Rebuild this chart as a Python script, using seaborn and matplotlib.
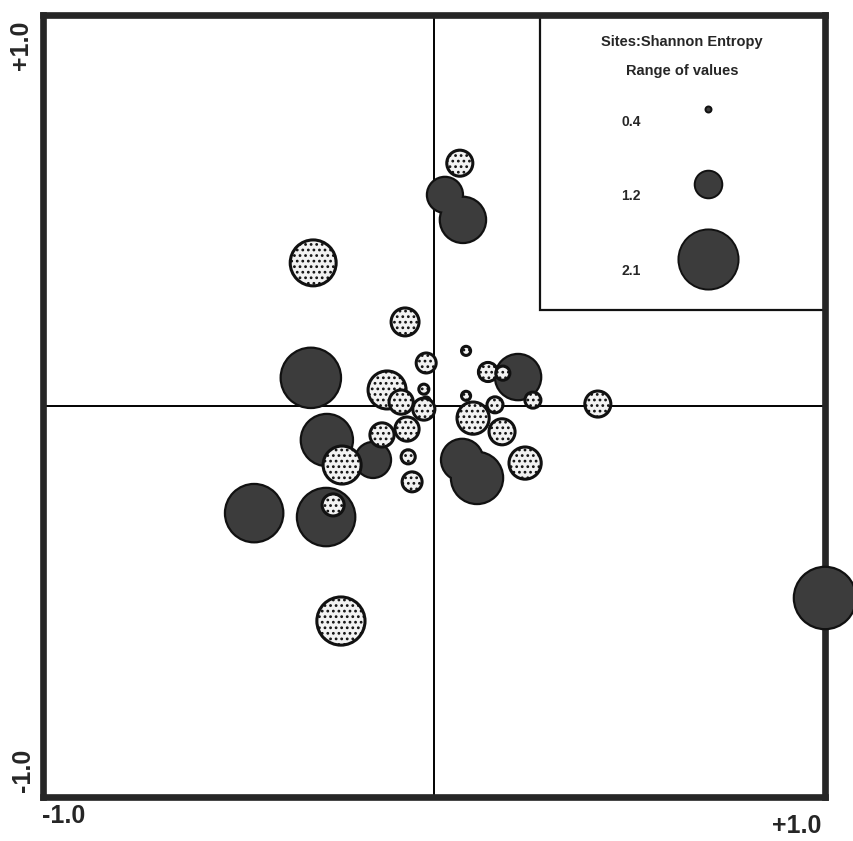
import numpy as np
import pandas as pd
import seaborn as sns
import matplotlib.pyplot as plt
from matplotlib.lines import Line2D

# site scores on the first two axes, with Shannon entropy per site
dark_x = [0.028, 0.074, -0.315, 0.215, -0.274, -0.156, 0.072, 0.110, -0.276, -0.460, 1.0]
dark_y = [0.540, 0.476, 0.072, 0.074, -0.087, -0.138, -0.138, -0.184, -0.284, -0.274, -0.491]
dark_h = [1.39, 1.68, 2.05, 1.68, 1.84, 1.39, 1.57, 1.84, 2.00, 2.00, 2.10]

light_x = [0.066, -0.309, -0.074, -0.020, 0.082, 0.138, 0.176, 0.253, -0.120, -0.084, -0.026,
           -0.020, -0.026, 0.082, 0.100, 0.156, -0.069, -0.133, 0.174, -0.235, -0.066, 0.233,
           -0.056, -0.258, -0.238, 0.419]
light_y = [0.621, 0.366, 0.215, 0.110, 0.141, 0.087, 0.084, 0.015, 0.041, 0.010, 0.043,
           0.013, -0.008, 0.026, -0.031, 0.003, -0.059, -0.074, -0.066, -0.151, -0.130, -0.146,
           -0.194, -0.253, -0.550, 0.005]
light_h = [1.15, 1.73, 1.21, 0.95, 0.54, 0.92, 0.74, 0.81, 1.51, 1.09, 0.58,
           0.49, 1.02, 0.54, 1.34, 0.81, 1.09, 1.09, 1.15, 1.51, 0.74, 1.34,
           0.95, 1.02, 1.79, 1.15]

legend_vals = [0.4, 1.2, 2.1]
legend_title = "Sites:Shannon Entropy\nRange of values"

DARK = "#3c3c3c"


def diam_pt(h):
    # radius in px grows as a power of entropy, px -> pt at dpi 100
    r = 3.0 * (h / 0.4) ** 1.39
    return 2 * r * 0.72


dark = pd.DataFrame({"x": dark_x, "y": dark_y, "H": dark_h})
light = pd.DataFrame({"x": light_x, "y": light_y, "H": light_h})
all_h = sorted(set(dark_h) | set(light_h))
size_map = {h: diam_pt(h) ** 2 for h in all_h}

sns.set_style("white")
plt.rcParams["font.family"] = ["Liberation Sans", "DejaVu Sans"]
plt.rcParams["hatch.linewidth"] = 1.2

fig = plt.figure(figsize=(8.54, 8.41), dpi=100)
ax = fig.add_axes([43 / 854, 1 - 797 / 841, 782 / 854, 782 / 841])

ax.axvline(0, color="black", lw=1.4, zorder=1)
ax.axhline(0, color="black", lw=1.4, zorder=1)

# dark sites: outline layer then fill layer, so touching circles merge
sns.scatterplot(data=dark, x="x", y="y", size="H", sizes=size_map, legend=False,
                color="#111111", edgecolor="#111111", linewidth=3.2, ax=ax,
                zorder=3, clip_on=False)
sns.scatterplot(data=dark, x="x", y="y", size="H", sizes=size_map, legend=False,
                color=DARK, linewidth=0, ax=ax, zorder=4, clip_on=False)
# light (stippled) sites on top
sns.scatterplot(data=light, x="x", y="y", size="H", sizes=size_map, legend=False,
                color="#f2f2f2", edgecolor="#111111", linewidth=2.2, hatch="...",
                ax=ax, zorder=5, clip_on=False)

ax.set_xlim(-1, 1)
ax.set_ylim(-1, 1)
ax.set_xticks([])
ax.set_yticks([])
ax.set_xlabel("")
ax.set_ylabel("")
for sp in ax.spines.values():
    sp.set_linewidth(4.8)
    sp.set_color("#262626")

# legend box (left and bottom edges, the rest is the frame)
ax.plot([0.271, 0.271, 1.0], [1.0, 0.246, 0.246], color="#111111", lw=1.6,
        zorder=2, solid_joinstyle="miter")

handles = [Line2D([], [], ls="", marker="o", markersize=diam_pt(v),
                  markerfacecolor=DARK, markeredgecolor="#111111", markeredgewidth=1.4)
           for v in legend_vals]
leg = ax.legend(handles, [f"{v:.1f}" for v in legend_vals], title=legend_title,
                loc="upper center", bbox_to_anchor=(0.817, 0.981), frameon=False,
                markerfirst=False, fontsize=10, handlelength=4.9, handletextpad=2.4,
                handleheight=6.2, labelspacing=1.1, borderaxespad=0,
                title_fontproperties={"size": 10.5, "weight": "bold"})
leg.get_title().set_linespacing(2.3)
leg.get_title().set_multialignment("center")
for t in leg.get_texts():
    t.set_fontweight("bold")

lab = dict(fontsize=18, fontweight="bold", ha="center", va="center")
fig.text(64 / 854, 1 - 816 / 841, "-1.0", **lab)
fig.text(797 / 854, 1 - 826 / 841, "+1.0", **lab)
fig.text(21 / 854, 1 - 45 / 841, "+1.0", rotation=90, **lab)
fig.text(23 / 854, 1 - 770 / 841, "-1.0", rotation=90, **lab)

fig.savefig("out.png", dpi=100, facecolor="white")
